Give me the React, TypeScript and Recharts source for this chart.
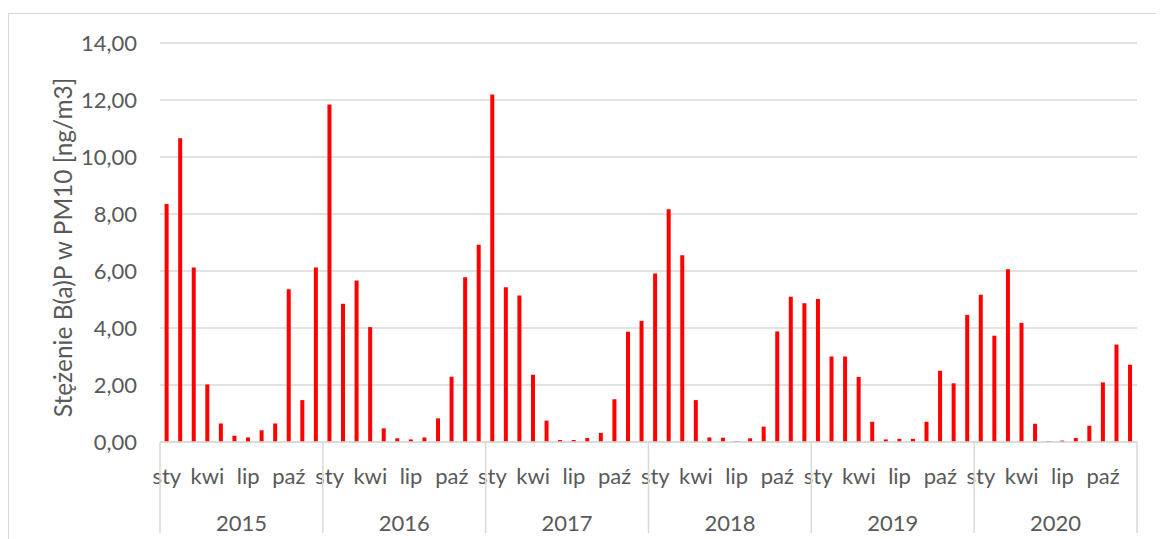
import React from 'react';
import { BarChart, Bar, XAxis, YAxis, CartesianGrid } from 'recharts';

const monthNames = ['sty', 'lut', 'mar', 'kwi', 'maj', 'cze', 'lip', 'sie', 'wrz', 'paź', 'lis', 'gru'];
const shownMonths = ['sty', 'kwi', 'lip', 'paź'];
const years = ['2015', '2016', '2017', '2018', '2019', '2020'];

const values2015 = [8.35, 10.66, 6.12, 2.02, 0.65, 0.22, 0.16, 0.41, 0.65, 5.36, 1.47, 6.12];
const values2016 = [11.84, 4.85, 5.67, 4.03, 0.48, 0.13, 0.09, 0.16, 0.83, 2.29, 5.78, 6.92];
const values2017 = [12.19, 5.43, 5.14, 2.36, 0.75, 0.07, 0.07, 0.14, 0.32, 1.5, 3.87, 4.25];
const values2018 = [5.91, 8.17, 6.55, 1.47, 0.16, 0.15, 0.03, 0.13, 0.54, 3.88, 5.1, 4.87];
const values2019 = [5.02, 3.0, 3.0, 2.28, 0.71, 0.09, 0.11, 0.11, 0.71, 2.5, 2.06, 4.46];
const values2020 = [5.17, 3.73, 6.06, 4.18, 0.64, 0.03, 0.05, 0.14, 0.57, 2.09, 3.42, 2.71];

const yTicks = [0, 2, 4, 6, 8, 10, 12, 14];
const yTitle = 'Stężenie B(a)P w PM10 [ng/m3]';

const seriesByYear = [values2015, values2016, values2017, values2018, values2019, values2020];

const data = years.flatMap((year, yi) =>
  monthNames.map((m, mi) => ({
    key: `${year}-${mi}`,
    month: m,
    monthIndex: mi,
    year,
    value: seriesByYear[yi][mi],
  }))
);

const FONT = 'Lato, "Open Sans", sans-serif';
const TEXT = '#595959';
const GRID = '#d9d9d9';
const TICK_FS = 22;

const MonthTick = (props: any) => {
  const { x, y, payload, index } = props;
  const d = data[index];
  const off = payload && payload.offset ? payload.offset : 0;
  const isLast = index === data.length - 1;
  return (
    <g>
      {shownMonths.includes(d.month) && (
        <text x={x} y={y + 33} textAnchor="middle" dominantBaseline="central" fill={TEXT} fontSize={TICK_FS} fontFamily={FONT}>
          {d.month}
        </text>
      )}
      {d.monthIndex === 0 && (
        <>
          <line x1={x - off} x2={x - off} y1={y} y2={y + 91} stroke={GRID} strokeWidth={1.5} />
          <text x={x + 11 * off} y={y + 80} textAnchor="middle" dominantBaseline="central" fill={TEXT} fontSize={TICK_FS} fontFamily={FONT}>
            {d.year}
          </text>
        </>
      )}
      {isLast && <line x1={x + off} x2={x + off} y1={y} y2={y + 91} stroke={GRID} strokeWidth={1.5} />}
    </g>
  );
};

const YTitle = (props: any) => {
  const vb = props.viewBox || { x: 0, y: 0, width: 0, height: 0 };
  const cx = vb.x + 54;
  const cy = vb.y + vb.height / 2 + 5;
  return (
    <text
      x={cx}
      y={cy}
      transform={`rotate(-90, ${cx}, ${cy})`}
      textAnchor="middle"
      dominantBaseline="central"
      fill={TEXT}
      fontSize={24.5}
      fontFamily={FONT}
    >
      {yTitle}
    </text>
  );
};

export default function App() {
  return (
    <div style={{ position: 'relative', width: 1156, height: 531, background: '#fff', overflow: 'hidden' }}>
      <div
        style={{
          position: 'absolute',
          left: 0,
          top: 5,
          width: 1160,
          height: 600,
          borderTop: `1.5px solid ${GRID}`,
          borderLeft: `1.5px solid ${GRID}`,
          boxSizing: 'border-box',
        }}
      />
      <div style={{ position: 'absolute', left: 0, top: 0 }}>
        <BarChart
          width={1156}
          height={531}
          data={data}
          margin={{ top: 35, right: 27, bottom: 0, left: 0 }}
          barCategoryGap="34%"
        >
          <CartesianGrid vertical={false} stroke={GRID} strokeWidth={1.5} />
          <XAxis
            dataKey="key"
            interval={0}
            tick={<MonthTick />}
            tickLine={false}
            tickSize={0}
            tickMargin={0}
            axisLine={{ stroke: GRID, strokeWidth: 1.5 }}
            height={97}
          />
          <YAxis
            width={152}
            domain={[0, 14]}
            ticks={yTicks}
            interval={0}
            tickFormatter={(v: number) => v.toFixed(2).replace('.', ',')}
            tick={{ fill: TEXT, fontSize: TICK_FS, fontFamily: FONT }}
            tickLine={false}
            tickSize={0}
            tickMargin={23}
            axisLine={false}
            label={<YTitle />}
          />
          <Bar dataKey="value" fill="#ff0000" isAnimationActive={false} />
        </BarChart>
      </div>
    </div>
  );
}
